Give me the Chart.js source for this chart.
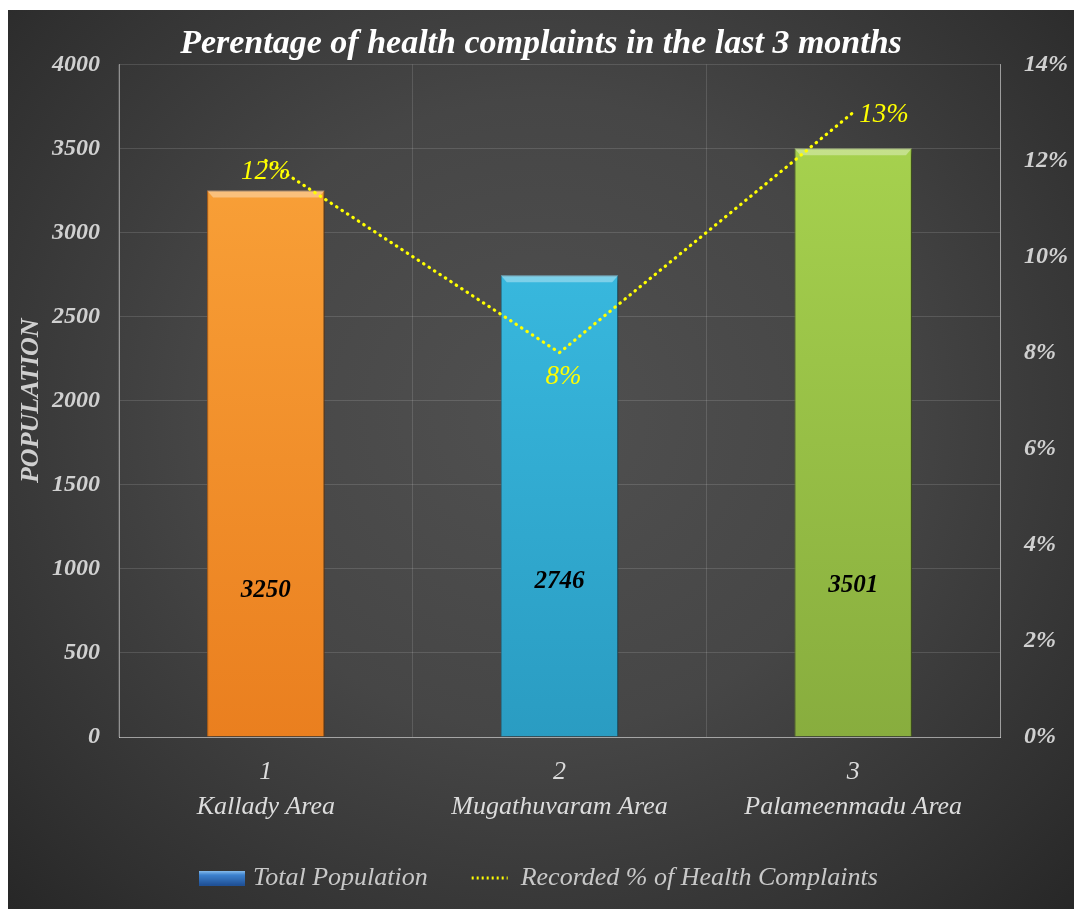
<!DOCTYPE html>
<html lang="en">
<head>
<meta charset="UTF-8" />
<title>Perentage of health complaints in the last 3 months</title>
<style>
  body { margin: 0; padding: 0; background: #fff; }
  #wrap {
    position: absolute; left: 8px; top: 10px;
    width: 1066px; height: 899px;
    background: radial-gradient(ellipse at 50% 45%, #505050 0%, #464646 45%, #303030 85%, #272727 100%);
  }
</style>
</head>
<body>
<div id="wrap"><canvas id="chart"></canvas></div>

<script src="https://cdn.jsdelivr.net/npm/chart.js"></script>
<script>
  // data
  const areaNumbers = ['1', '2', '3'];
  const areaNames = ['Kallady Area', 'Mugathuvaram Area', 'Palameenmadu Area'];
  const population = [3250, 2746, 3501];
  const complaintPct = [12, 8, 13];
  const barTops = ['#fba63c', '#3ec4ea', '#aad650'];
  const barBottoms = ['#ea7f1f', '#2a9cc2', '#88ad3e'];
  const barEdges = ['#c86a17', '#2585a6', '#6f8f31'];

  const serif = '"Liberation Serif", "Times New Roman", serif';

  // legend icon for the bars
  const barIcon = document.createElement('canvas');
  barIcon.width = 46; barIcon.height = 15;
  (function () {
    const c = barIcon.getContext('2d');
    const g = c.createLinearGradient(0, 0, 0, 15);
    g.addColorStop(0, '#8ec3f0');
    g.addColorStop(0.3, '#3d82cf');
    g.addColorStop(1, '#1f4f94');
    c.fillStyle = g;
    c.fillRect(0, 0, 46, 15);
  })();

  function barFill(ctx) {
    const area = ctx.chart.chartArea;
    const i = ctx.dataIndex;
    if (!area) return barTops[i];
    const g = ctx.chart.ctx.createLinearGradient(0, area.top, 0, area.bottom);
    g.addColorStop(0, barTops[i]);
    g.addColorStop(1, barBottoms[i]);
    return g;
  }

  // bar shadows, top bevel, value labels and % labels
  const decor = {
    id: 'decor',
    beforeDatasetDraw(chart, args) {
      if (args.meta.type === 'bar') {
        const c = chart.ctx;
        c.save();
        c.shadowColor = 'rgba(0,0,0,0.55)';
        c.shadowBlur = 8;
        c.shadowOffsetX = 4;
        c.shadowOffsetY = 2;
      }
    },
    afterDatasetDraw(chart, args) {
      const c = chart.ctx;
      if (args.meta.type === 'bar') {
        c.restore();
        const labelY = [870, 925, 900];
        args.meta.data.forEach((bar, i) => {
          const w = bar.width, x0 = bar.x - w / 2;
          c.save();
          c.fillStyle = 'rgba(255,255,255,0.35)';
          c.beginPath();
          c.moveTo(x0, bar.y);
          c.lineTo(x0 + w, bar.y);
          c.lineTo(x0 + w - 6, bar.y + 7);
          c.lineTo(x0 + 6, bar.y + 7);
          c.closePath();
          c.fill();
          c.font = 'italic bold 25px ' + serif;
          c.fillStyle = '#000';
          c.textAlign = 'center';
          c.textBaseline = 'middle';
          c.fillText(String(population[i]), bar.x, chart.scales.y.getPixelForValue(labelY[i]));
          c.restore();
        });
      } else {
        const shifts = [[0, 11, 'center'], [4, 24, 'center'], [6, 2, 'left']];
        c.save();
        c.font = 'italic 27px ' + serif;
        c.fillStyle = '#ffff00';
        c.textBaseline = 'middle';
        args.meta.data.forEach((pt, i) => {
          c.textAlign = shifts[i][2];
          c.fillText(complaintPct[i] + '%', pt.x + shifts[i][0], pt.y + shifts[i][1]);
        });
        c.restore();
      }
    }
  };

  new Chart(document.getElementById('chart'), {
    data: {
      labels: areaNumbers.map((n, i) => [n, areaNames[i]]),
      datasets: [
        {
          type: 'bar',
          label: 'Total Population',
          data: population,
          yAxisID: 'y',
          order: 2,
          backgroundColor: barFill,
          borderColor: barEdges,
          borderWidth: 1,
          barPercentage: 0.4,
          categoryPercentage: 1
        },
        {
          type: 'line',
          label: 'Recorded % of Health Complaints',
          data: complaintPct,
          yAxisID: 'y1',
          order: 1,
          borderColor: '#ffff00',
          borderWidth: 3.2,
          borderDash: [0.5, 6],
          borderCapStyle: 'round',
          pointRadius: 0,
          fill: false,
          tension: 0
        }
      ]
    },
    options: {
      responsive: true,
      maintainAspectRatio: false,
      animation: false,
      layout: { padding: { top: 0, bottom: 8, left: 0, right: 0 } },
      plugins: {
        tooltip: { enabled: false },
        title: {
          display: true,
          text: 'Perentage of health complaints in the last 3 months',
          color: '#ffffff',
          font: { family: serif, size: 34, style: 'italic', weight: 'bold', lineHeight: 1.1 },
          padding: { top: 16, bottom: 1 }
        },
        legend: {
          position: 'bottom',
          labels: {
            color: '#c8c8c8',
            font: { family: serif, size: 26, style: 'italic' },
            usePointStyle: true,
            pointStyleWidth: 36,
            boxHeight: 14,
            padding: 44,
            generateLabels: () => [
              { text: 'Total Population', pointStyle: barIcon, fillStyle: '#3d82cf', strokeStyle: '#3d82cf', lineWidth: 0, fontColor: '#c8c8c8', datasetIndex: 0 },
              { text: 'Recorded % of Health Complaints', pointStyle: 'line', strokeStyle: '#ffff00', lineWidth: 3, lineDash: [2, 3], fontColor: '#c8c8c8', datasetIndex: 1 }
            ]
          }
        }
      },
      scales: {
        x: {
          grid: { color: 'rgba(255,255,255,0.13)', offset: true, drawTicks: false },
          border: { color: 'rgba(255,255,255,0.45)' },
          ticks: {
            color: '#dcdcdc',
            font: { family: serif, size: 26, style: 'italic', lineHeight: 1.35 },
            padding: 18,
            maxRotation: 0
          },
          afterFit: s => { s.height = 84; }
        },
        y: {
          position: 'left',
          min: 0, max: 4000,
          grid: { color: 'rgba(255,255,255,0.13)', drawTicks: false },
          border: { color: 'rgba(255,255,255,0.45)' },
          ticks: {
            stepSize: 500,
            color: '#d0d0d0',
            font: { family: serif, size: 24, style: 'italic', weight: 'bold' },
            padding: 19,
            callback: v => String(v)
          },
          title: {
            display: true,
            text: 'POPULATION',
            color: '#cfcfcf',
            font: { family: serif, size: 26, style: 'italic', weight: 'bold' },
            padding: { top: 8, bottom: 0 }
          },
          afterFit: s => { s.width = 111; }
        },
        y1: {
          position: 'right',
          min: 0, max: 14,
          grid: { drawOnChartArea: false, drawTicks: false },
          border: { color: 'rgba(255,255,255,0.45)' },
          ticks: {
            stepSize: 2,
            color: '#d0d0d0',
            font: { family: serif, size: 24, style: 'italic', weight: 'bold' },
            padding: 24,
            callback: v => v + '%'
          },
          afterFit: s => { s.width = 74; }
        }
      }
    },
    plugins: [decor]
  });
</script>
</body>
</html>
